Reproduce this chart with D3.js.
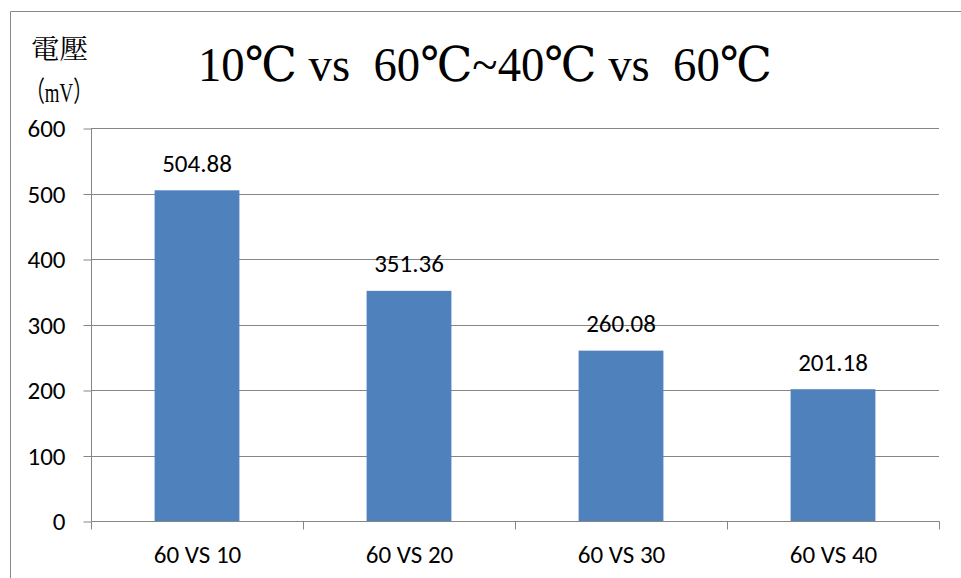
<!DOCTYPE html>
<html><head><meta charset="utf-8">
<script src="https://cdn.jsdelivr.net/npm/d3@7"></script>
<style>body{margin:0;background:#fff}svg{display:block}</style>
</head><body>
<script>
const categories = ["60 VS 10", "60 VS 20", "60 VS 30", "60 VS 40"];
const values = [504.88, 351.36, 260.08, 201.18];
const yTicks = [0, 100, 200, 300, 400, 500, 600];
const titleText = "10℃ vs  60℃~40℃ vs  60℃";
const yTitle1 = "電壓";
const yTitle2 = "（mV）";

const W = 961, H = 578;
const FONT = "Carlito, Calibri, 'Open Sans', sans-serif";
const svg = d3.select("body").append("svg").attr("width", W).attr("height", H);
const m = {left: 91, right: 939, top: 128, bottom: 521};

// outer border (left/top only visible)
svg.append("path").attr("d", `M10.5,${H} L10.5,11.5 L${W},11.5`)
  .attr("fill", "none").attr("stroke", "#898989").attr("stroke-width", 1);

const x = d3.scaleBand().domain(categories).range([m.left, m.right]).paddingInner(0).paddingOuter(0);
const y = d3.scaleLinear().domain([0, 600]).range([m.bottom, m.top]);

// gridlines
svg.append("g").selectAll("line").data(yTicks.filter(d => d > 0)).join("line")
  .attr("x1", m.left).attr("x2", m.right)
  .attr("y1", d => Math.round(y(d)) + 0.5).attr("y2", d => Math.round(y(d)) + 0.5)
  .attr("stroke", "#868686").attr("stroke-width", 1);

// bars
const bw = x.bandwidth() * 0.4;
svg.append("g").selectAll("rect").data(values).join("rect")
  .attr("x", (d, i) => x(categories[i]) + (x.bandwidth() - bw) / 2)
  .attr("width", bw)
  .attr("y", d => y(d))
  .attr("height", d => m.bottom - y(d))
  .attr("fill", "#4F81BD");

// y axis
const yAxis = d3.axisLeft(y).tickValues(yTicks).tickSize(8).tickPadding(18).tickFormat(d3.format("d"));
const gy = svg.append("g").attr("transform", `translate(${m.left + 0.5},0.5)`).call(yAxis);
gy.select(".domain").attr("stroke", "#868686").attr("d", `M0,${m.top} V${m.bottom}`);
gy.selectAll(".tick line").attr("stroke", "#868686");
gy.selectAll("text").attr("font-family", FONT).attr("font-size", 25).attr("fill", "#000");

// x axis
const gx = svg.append("g").attr("transform", `translate(0.5,${m.bottom + 0.5})`);
gx.append("line").attr("x1", m.left).attr("x2", m.right).attr("stroke", "#868686");
const tickXs = categories.map(c => x(c)).concat([m.right]);
gx.selectAll("line.t").data(tickXs).join("line").attr("class", "t")
  .attr("x1", d => Math.round(d)).attr("x2", d => Math.round(d)).attr("y1", 0).attr("y2", 8)
  .attr("stroke", "#868686");
gx.selectAll("text").data(categories).join("text")
  .attr("x", d => x(d) + x.bandwidth() / 2).attr("y", 41)
  .attr("text-anchor", "middle")
  .attr("font-family", FONT).attr("font-size", 25).attr("fill", "#000")
  .text(d => d);

// value labels
svg.append("g").selectAll("text").data(values).join("text")
  .attr("x", (d, i) => x(categories[i]) + x.bandwidth() / 2)
  .attr("y", d => y(d) - 18.5)
  .attr("text-anchor", "middle")
  .attr("font-family", FONT).attr("font-size", 25).attr("fill", "#000")
  .text(d => d.toFixed(2));

// title
svg.append("text").attr("x", 198).attr("y", 81)
  .style("white-space", "pre")
  .attr("font-family", "'Liberation Serif', 'DejaVu Serif', serif").attr("font-size", 48)
  .attr("textLength", 574).attr("lengthAdjust", "spacingAndGlyphs")
  .attr("fill", "#000").text(titleText);

// y-axis title
svg.append("text").attr("x", 31).attr("y", 59)
  .attr("font-family", "'Noto Serif CJK TC', 'Noto Sans CJK TC', serif").attr("font-size", 27)
  .attr("textLength", 57).attr("lengthAdjust", "spacingAndGlyphs")
  .attr("fill", "#000").text(yTitle1);
svg.append("text").attr("x", 26).attr("y", 102)
  .attr("font-family", "'Liberation Serif', 'Noto Sans CJK TC', serif").attr("font-size", 28)
  .attr("textLength", 66).attr("lengthAdjust", "spacingAndGlyphs")
  .attr("fill", "#000").text(yTitle2);
</script>
</body></html>
